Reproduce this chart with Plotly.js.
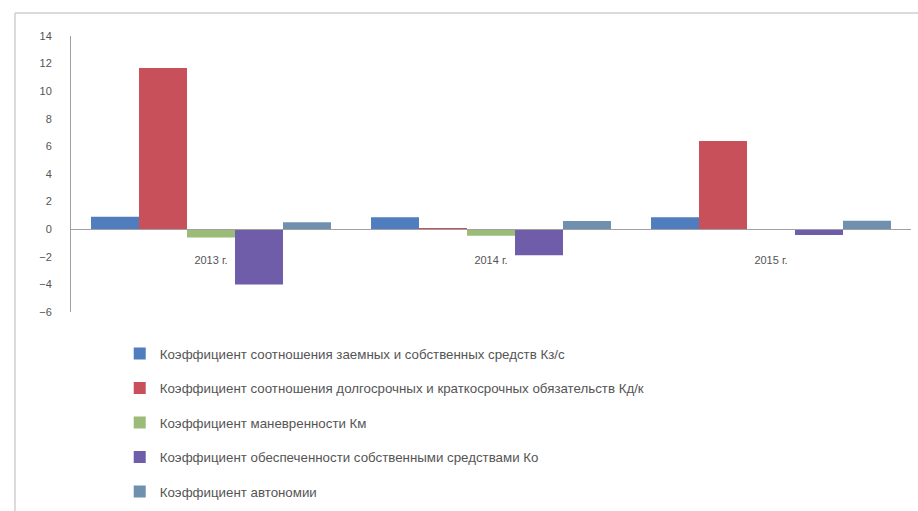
<!DOCTYPE html>
<html>
<head>
<meta charset="utf-8">
<script src="https://cdn.plot.ly/plotly-3.0.1.min.js"></script>
<style>body{margin:0;padding:0;background:#fff;}#chart{width:918px;height:511px;}</style>
</head>
<body>
<div id="chart"></div>
<script>
const categories = ["2013 г.", "2014 г.", "2015 г."];
const seriesNames = [
  "Коэффициент соотношения заемных и собственных средств Кз/с",
  "Коэффициент соотношения долгосрочных и краткосрочных обязательств Кд/к",
  "Коэффициент маневренности Км",
  "Коэффициент обеспеченности собственными средствами Ко",
  "Коэффициент автономии"
];
const kzs = [0.9, 0.87, 0.86];
const kdk = [11.68, 0.08, 6.4];
const km = [-0.6, -0.47, -0.06];
const ko = [-4.0, -1.88, -0.42];
const ka = [0.5, 0.6, 0.62];
const seriesValues = [kzs, kdk, km, ko, ka];
const colors = ["#4F7DBD", "#C8505A", "#9BBB79", "#6F5DAA", "#7090B0"];

const traces = seriesValues.map((vals, i) => ({
  type: "bar",
  x: categories,
  y: vals,
  name: seriesNames[i],
  legendgroup: "g" + i,
  marker: {color: colors[i], line: {width: 0}},
  hoverinfo: "y"
}));

const layout = {
  width: 918,
  height: 511,
  margin: {l: 71, r: 7, t: 36, b: 199, autoexpand: false},
  paper_bgcolor: "#fff",
  plot_bgcolor: "#fff",
  font: {family: "Liberation Sans, Arial, sans-serif", size: 11, color: "#555"},
  barmode: "group",
  bargap: 0.143,
  bargroupgap: 0,
  showlegend: true,
  legend: {
    orientation: "v",
    x: 0.058,
    xanchor: "left",
    y: -0.0956,
    yanchor: "top",
    font: {size: 13.3, color: "#555"},
    tracegroupgap: 14.2,
    itemwidth: 30,
    bgcolor: "rgba(0,0,0,0)"
  },
  xaxis: {
    type: "category",
    anchor: "free",
    position: 0.3,
    showline: true,
    linecolor: "#a0a0a0",
    linewidth: 1,
    ticks: "",
    showgrid: false,
    zeroline: false,
    ticklabelstandoff: 21,
    tickfont: {size: 11, color: "#555"}
  },
  yaxis: {
    range: [-6, 14],
    dtick: 2,
    tick0: 0,
    showgrid: false,
    zeroline: false,
    showline: true,
    linecolor: "#a0a0a0",
    linewidth: 1,
    ticks: "",
    ticklabelstandoff: 16,
    tickfont: {size: 11, color: "#555"}
  },
  shapes: [
    {type: "line", xref: "paper", yref: "paper", x0: -0.0667, x1: 1.01, y0: 1.083, y1: 1.083,
     line: {color: "#cfcfcf", width: 1.5}, layer: "below"},
    {type: "line", xref: "paper", yref: "paper", x0: -0.0667, x1: -0.0667, y0: 1.083, y1: -0.8,
     line: {color: "#cfcfcf", width: 1.5}, layer: "below"}
  ]
};

Plotly.newPlot("chart", traces, layout, {displayModeBar: false, staticPlot: true});
</script>
</body>
</html>
